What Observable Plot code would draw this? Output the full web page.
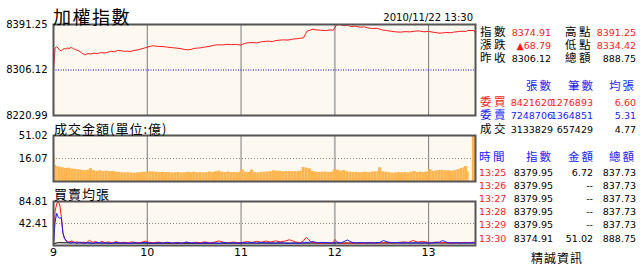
<!DOCTYPE html>
<html><head><meta charset="utf-8">
<script src="https://cdn.jsdelivr.net/npm/d3@7"></script>
<script src="https://cdn.jsdelivr.net/npm/@observablehq/plot@0.6"></script>
<style>
html,body{margin:0;padding:0;background:#fff;}
#root{position:relative;width:640px;height:269px;overflow:hidden;font-family:"DejaVu Sans",sans-serif;}
#root svg{position:absolute;left:0;top:0;}
</style></head><body><div id="root"></div>
<script>
// ---------- data ----------
const idxTime = ["09:00","09:01","09:02","09:03","09:04","09:05","09:06","09:07","09:08","09:09","09:10","09:11","09:12","09:13","09:14","09:15","09:16","09:17","09:18","09:19","09:20","09:22","09:24","09:26","09:28","09:30","09:33","09:35","09:37","09:39","09:41","09:43","09:45","09:47","09:49","09:51","09:54","09:56","09:58","10:00","10:02","10:04","10:07","10:10","10:13","10:16","10:19","10:22","10:24","10:26","10:28","10:30","10:32","10:34","10:37","10:40","10:43","10:45","10:48","10:51","10:54","10:57","11:00","11:02","11:04","11:07","11:10","11:13","11:17","11:20","11:23","11:27","11:30","11:33","11:36","11:38","11:40","11:41","11:42","11:44","11:46","11:48","11:51","11:54","11:57","11:59","12:00","12:01","12:03","12:06","12:08","12:10","12:13","12:16","12:19","12:21","12:24","12:27","12:30","12:33","12:36","12:39","12:42","12:45","12:48","12:51","12:54","12:57","13:00","13:03","13:06","13:08","13:11","13:14","13:16","13:19","13:22","13:24","13:25","13:29","13:30"];
const idxValue = [8306.5,8347.2,8349.5,8347.0,8343.1,8342.0,8344.6,8346.3,8345.1,8347.5,8346.0,8348.2,8347.4,8345.3,8344.8,8343.0,8342.2,8340.5,8338.3,8336.1,8334.42,8336.8,8336.0,8337.7,8336.5,8338.6,8338.0,8339.6,8341.2,8340.1,8342.6,8342.3,8341.0,8341.5,8340.6,8342.2,8343.9,8345.5,8347.0,8348.8,8350.5,8351.4,8350.2,8350.0,8348.8,8347.9,8347.0,8345.8,8344.5,8343.9,8344.6,8346.5,8347.0,8347.6,8349.2,8350.5,8352.6,8353.2,8353.0,8354.1,8353.5,8354.0,8352.8,8355.7,8357.0,8357.5,8356.8,8359.0,8360.0,8359.4,8361.5,8362.6,8362.0,8363.8,8364.7,8365.6,8366.2,8372.0,8378.5,8380.5,8382.5,8381.0,8380.6,8379.8,8381.2,8380.5,8385.5,8390.2,8391.25,8389.0,8390.0,8387.5,8388.2,8386.3,8386.8,8385.0,8383.6,8384.2,8381.3,8380.0,8378.6,8377.5,8376.9,8378.0,8377.4,8378.7,8379.3,8377.6,8378.2,8376.8,8375.4,8375.0,8376.5,8375.8,8376.9,8378.0,8378.7,8378.2,8379.95,8379.95,8374.91];

const volTime = ["09:00","09:01","09:02","09:03","09:05","09:07","09:09","09:11","09:13","09:15","09:17","09:19","09:21","09:23","09:25","09:27","09:29","09:31","09:33","09:35","09:37","09:39","09:41","09:43","09:45","09:47","09:49","09:51","09:53","09:55","09:57","09:59","10:01","10:03","10:05","10:07","10:09","10:11","10:13","10:15","10:17","10:19","10:21","10:23","10:25","10:27","10:29","10:31","10:33","10:35","10:37","10:39","10:41","10:43","10:45","10:47","10:49","10:51","10:53","10:55","10:57","10:59","11:00","11:02","11:04","11:06","11:08","11:10","11:12","11:14","11:16","11:18","11:20","11:22","11:24","11:26","11:28","11:30","11:32","11:34","11:36","11:38","11:39","11:41","11:43","11:45","11:47","11:49","11:51","11:53","11:55","11:57","11:59","12:01","12:03","12:05","12:07","12:09","12:11","12:13","12:15","12:17","12:19","12:21","12:23","12:25","12:27","12:28","12:30","12:32","12:34","12:36","12:38","12:40","12:42","12:44","12:46","12:48","12:50","12:52","12:54","12:56","12:58","13:00","13:02","13:04","13:06","13:08","13:10","13:12","13:14","13:16","13:18","13:20","13:22","13:23","13:25","13:26","13:30"];
const volValue = [20.4,11.2,10.5,10.0,9.6,9.1,9.3,8.7,8.5,8.2,7.9,7.6,7.8,8.9,7.4,7.2,7.5,7.0,7.3,6.9,7.0,6.6,6.4,6.1,6.0,6.1,5.9,5.8,6.0,6.2,6.5,6.4,6.8,6.7,6.5,6.3,6.4,6.2,6.3,6.0,6.1,6.3,6.0,6.1,6.4,6.2,6.5,6.1,6.3,6.0,6.2,6.6,6.4,6.8,7.2,6.5,6.3,6.6,6.2,6.3,6.1,6.7,8.2,6.5,6.3,8.0,6.2,6.0,6.4,6.5,6.6,6.9,7.5,7.2,7.2,6.8,7.0,7.0,6.8,6.9,7.0,7.4,9.8,9.3,8.9,7.0,6.6,6.3,6.5,6.6,6.3,6.5,8.2,7.9,7.2,7.6,6.8,6.5,6.3,6.4,6.1,6.3,6.5,6.2,6.6,6.8,7.0,9.6,6.8,6.5,6.2,5.8,6.0,6.2,6.0,6.3,6.1,6.5,7.0,6.4,6.6,6.3,6.6,8.4,7.1,7.4,7.7,7.8,7.6,7.5,7.2,7.6,8.3,9.1,9.6,10.5,6.72,0,51.02];

const buyTime = ["09:00","09:01","09:02","09:03","09:04","09:05","09:06","09:07","09:08","09:09","09:10","09:12","09:13","09:15","09:17","09:19","09:21","09:23","09:25","09:27","09:29","09:31","09:33","09:35","09:38","09:40","09:42","09:45","09:48","09:50","09:53","09:56","09:59","10:01","10:04","10:07","10:10","10:13","10:16","10:19","10:22","10:25","10:28","10:31","10:34","10:37","10:40","10:43","10:46","10:49","10:52","10:55","10:58","11:01","11:04","11:07","11:10","11:13","11:16","11:19","11:22","11:25","11:28","11:31","11:33","11:35","11:38","11:40","11:41","11:42","11:43","11:45","11:47","11:50","11:53","11:56","11:59","12:00","12:02","12:05","12:08","12:11","12:14","12:17","12:20","12:23","12:26","12:29","12:32","12:35","12:38","12:41","12:44","12:47","12:50","12:53","12:56","12:59","13:02","13:05","13:08","13:11","13:14","13:17","13:20","13:23","13:26","13:30"];
const buyAvg = [2,66,80,84.81,78,56,25,14,10,8,6.5,9,5.5,7,5,6.5,5.2,10,6,7.5,5,8,5.5,6.8,5,7.6,5.4,6.2,5,7,5.2,6,8.5,6,5.4,6.6,5,6,4.6,5.5,4.8,6.5,5,6.2,5.6,7,5,6.4,8.8,6,5.4,6.6,5.5,6.2,7.5,6,8,6.4,8.5,6.5,9,7,8.5,11,9,6.5,5.5,9,14,15,12,6,5.4,4.5,5,4.8,5.6,11.5,5.5,4.2,4.8,4.4,5,4.3,4.6,5.6,4.5,5.2,4.8,6,4.5,5.8,7,6,9.6,6.5,8,6.3,5.6,6.6,5,5.8,4.6,5.5,5,6,5.5,6.6];

const sellTime = ["09:00","09:01","09:02","09:03","09:04","09:05","09:06","09:07","09:08","09:09","09:11","09:13","09:15","09:17","09:19","09:22","09:25","09:28","09:31","09:34","09:37","09:40","09:43","09:46","09:49","09:52","09:55","09:58","10:01","10:04","10:07","10:10","10:13","10:16","10:19","10:22","10:25","10:28","10:31","10:34","10:37","10:40","10:43","10:46","10:49","10:52","10:55","10:58","11:01","11:04","11:07","11:10","11:13","11:16","11:19","11:22","11:25","11:28","11:31","11:34","11:37","11:40","11:43","11:46","11:49","11:52","11:55","11:58","12:01","12:04","12:08","12:11","12:14","12:17","12:20","12:23","12:26","12:29","12:31","12:34","12:37","12:40","12:43","12:46","12:49","12:52","12:55","12:58","13:01","13:04","13:07","13:09","13:12","13:15","13:18","13:21","13:24","13:27","13:30"];
const sellAvg = [1,45,62,55,52,54,24,14,9,6,4.5,7,4,6.5,4.2,5.5,4,6,4.5,5.3,4,6,4.6,5.2,4,5.6,4.4,6,5,4.2,5.5,4.6,6.2,4.5,5.5,4.4,6.4,4.8,5.2,4.2,5.6,4.4,5.2,4,5.8,4.6,5.4,4.2,5.6,4.5,5.8,4.4,6,4.8,5.2,4.5,5.6,4.6,4.2,5,4.4,5.2,6,7.7,5,6,5.4,4.6,6.6,5,10.6,6,5,5.6,4.8,5.4,5,6,9.6,6.5,5.2,5.8,4.8,5.6,4.6,5.4,4.5,5.2,4.6,5.6,6.4,9.6,5.6,4.8,5.6,4.6,5.2,5,5.3];

const tradeTime = ["09:00","09:03","09:10","09:30","10:00","10:30","11:00","11:30","12:00","12:30","13:00","13:30"];
const tradeAvg = [3.5,5.5,5.0,4.6,4.4,4.3,4.5,4.6,4.6,4.7,4.7,4.77];

const hourTicks = ["10:00","11:00","12:00","13:00"];
const axisHours = ["9","10","11","12","13"];
const idxTicks = [8220.99, 8306.12, 8391.25];
const prevClose = 8306.12;
const volTicks = [16.07, 51.02];
const avgTicks = [42.41, 84.81];

const title = "加權指數";
const stamp = "2010/11/22 13:30";
const volTitle = "成交金額(單位:億)";
const avgTitle = "買賣均張";

const quoteLabels = ["指數","漲跌","昨收"];
const quoteValues = ["8374.91","▲68.79","8306.12"];
const quoteLabels2 = ["高點","低點","總額"];
const quoteValues2 = ["8391.25","8334.42","888.75"];

const bookHeader = ["張數","筆數","均張"];
const bookLabels = ["委買","委賣","成交"];
const bookShares = ["8421620","7248706","3133829"];
const bookCounts = ["1276893","1364851","657429"];
const bookAvg = ["6.60","5.31","4.77"];

const tickHeader = ["時間","指數","金額","總額"];
const tickTimes = ["13:25","13:26","13:27","13:28","13:29","13:30"];
const tickIndex = ["8379.95","8379.95","8379.95","8379.95","8379.95","8374.91"];
const tickAmount = ["6.72","--","--","--","--","51.02"];
const tickTotal = ["837.73","837.73","837.73","837.73","837.73","888.75"];
const footer = "精誠資訊";

// ---------- helpers ----------
const RED = "#ff1a1a", BLUE = "#1a1aff", ORANGE = "#ffb54f", BG = "#fdf9f1";
const tm = s => { const [h, m] = s.split(":").map(Number); return (h - 9) * 60 + m; };
const pairs = (ts, vs) => ts.map((t, i) => ({x: tm(t), v: vs[i]}));
const idxData = pairs(idxTime, idxValue);
// volume axis is split: lower half 0..16.07, upper half 16.07..51.02
const volPos = v => v <= volTicks[0] ? v / volTicks[0] : 1 + (v - volTicks[0]) / (volTicks[1] - volTicks[0]);
const volData = volTime.map((t, i) => {
  const x = tm(t);
  const last = i === volTime.length - 1;
  return {x1: last ? x - 2 : x, x2: last ? x : tm(volTime[i + 1]), v: volPos(volValue[i])};
});
const buyData = pairs(buyTime, buyAvg);
const sellData = pairs(sellTime, sellAvg);
const tradeData = pairs(tradeTime, tradeAvg);
const hours = hourTicks.map(tm);
const noon = tm("12:00");

const root = document.getElementById("root");
const W = 480, H = 269, XR = [53, 475];

function panel(yDomain, yRange, extra, xAxis) {
  const marks = [
    Plot.frame({fill: BG, stroke: null}),
    Plot.ruleX(hours.filter(h => h !== noon), {stroke: "#7a7a7a", strokeWidth: 1}),
    Plot.ruleX([noon], {stroke: "#b4b4b4", strokeWidth: 2}),
    ...extra,
    Plot.frame({stroke: "#555", strokeWidth: 2}),
  ];
  if (xAxis) marks.push(xAxis);
  return Plot.plot({
    width: W, height: H,
    marginLeft: XR[0], marginRight: W - XR[1],
    marginTop: yRange[1], marginBottom: H - yRange[0],
    style: {background: "transparent", fontFamily: "DejaVu Sans", fontSize: "10px", color: "#000", overflow: "visible"},
    x: {domain: [0, 270], range: XR, axis: null},
    y: {domain: yDomain, range: yRange, axis: null},
    marks
  });
}
const yAxis = (ticks, labels) => Plot.axisY(ticks, {tickSize: 0, tickPadding: 6, label: null, fill: "#000",
  tickFormat: (d, i) => labels ? labels[i].toFixed(2) : d.toFixed(2)});

// Panel 1: index
root.appendChild(panel([8220.99, 8391.25], [115, 24], [
  Plot.ruleY([prevClose], {stroke: "#0000ff", strokeDasharray: "1,1.5"}),
  Plot.line(idxData, {x: "x", y: "v", stroke: RED, strokeWidth: 1}),
  yAxis(idxTicks)
]));

// Panel 2: volume
root.appendChild(panel([0, 2], [181, 135], [
  Plot.ruleY([1], {stroke: "#888", strokeDasharray: "1,2"}),
  Plot.rectY(volData, {x1: "x1", x2: "x2", y: "v", fill: ORANGE, inset: 0}),
  yAxis(volTicks.map(volPos), volTicks)
]));

// Panel 3: average lots
root.appendChild(panel([0, 84.81], [245, 201], [
  Plot.ruleY([42.41], {stroke: "#888", strokeDasharray: "1,2"}),
  Plot.line(tradeData, {x: "x", y: "v", stroke: "#000", strokeWidth: 1}),
  Plot.line(buyData, {x: "x", y: "v", stroke: RED, strokeWidth: 1}),
  Plot.line(sellData, {x: "x", y: "v", stroke: BLUE, strokeWidth: 1}),
  yAxis(avgTicks)
], Plot.axisX([0, 60, 120, 180, 240], {tickSize: 0, tickPadding: 3, fontSize: 11, label: null, tickFormat: (d, i) => axisHours[i], fill: "#000"})));

// ---------- texts ----------
const svg = d3.select(root).append("svg").attr("width", 640).attr("height", H);
const CJK = "'Noto Sans CJK TC','Noto Sans CJK SC',sans-serif";
const CJKT = "'Liberation Sans','Noto Sans CJK TC','Noto Sans CJK SC',sans-serif";
const NUM = "'DejaVu Sans',sans-serif";
function txt(x, y, s, {anchor = "start", size = 10, font = NUM, color = "#000", ls = 0} = {}) {
  svg.append("text").attr("x", x).attr("y", y).attr("text-anchor", anchor)
    .attr("dominant-baseline", "central").attr("font-family", font).attr("font-size", size)
    .attr("letter-spacing", ls).attr("fill", color).text(s);
}
txt(53, 16, title, {font: CJK, size: 18, ls: 1.5});
txt(473, 17, stamp, {anchor: "end", size: 10});
txt(54, 128, volTitle, {font: CJK, size: 13, ls: 1});
txt(54, 193, avgTitle, {font: CJK, size: 13, ls: 1});

const LS = 11.5;
const qy = [32, 45, 58];
quoteLabels.forEach((l, i) => {
  const c = i < 2 ? RED : "#000";
  txt(480, qy[i], l, {font: CJKT, size: LS, ls: 2.5});
  txt(551, qy[i], quoteValues[i], {anchor: "end", size: 9.5, color: c});
  txt(565, qy[i], quoteLabels2[i], {font: CJKT, size: LS, ls: 2.5});
  txt(636, qy[i], quoteValues2[i], {anchor: "end", size: 9.5, color: c});
});

const bookX = [553, 595, 636];
bookHeader.forEach((h, j) => txt(bookX[j], 86, h, {anchor: "end", font: CJKT, size: LS, color: BLUE, ls: 2}));
const by = [102, 115, 129];
const bc = [RED, BLUE, "#000"];
bookLabels.forEach((l, i) => {
  txt(480, by[i], l, {font: CJKT, size: LS, color: bc[i], ls: 2.5});
  txt(553, by[i], bookShares[i], {anchor: "end", size: 9.5, color: bc[i]});
  txt(593, by[i], bookCounts[i], {anchor: "end", size: 9.5, color: bc[i]});
  txt(636, by[i], bookAvg[i], {anchor: "end", size: 9.5, color: bc[i]});
});

const thX = [553, 595, 636];
txt(479, 157, tickHeader[0], {font: CJKT, size: LS, color: BLUE, ls: 2.5});
tickHeader.slice(1).forEach((h, j) => txt(thX[j], 157, h, {anchor: "end", font: CJKT, size: LS, color: BLUE, ls: 2}));
tickTimes.forEach((t, i) => {
  const y = 172 + i * 13.2;
  txt(479, y, t, {size: 9.5, color: RED});
  txt(553, y, tickIndex[i], {anchor: "end", size: 9.5});
  txt(593, y, tickAmount[i], {anchor: "end", size: 9.5});
  txt(636, y, tickTotal[i], {anchor: "end", size: 9.5});
});
txt(557, 257, footer, {anchor: "middle", font: CJK, size: 12, ls: 1});
</script></body></html>
